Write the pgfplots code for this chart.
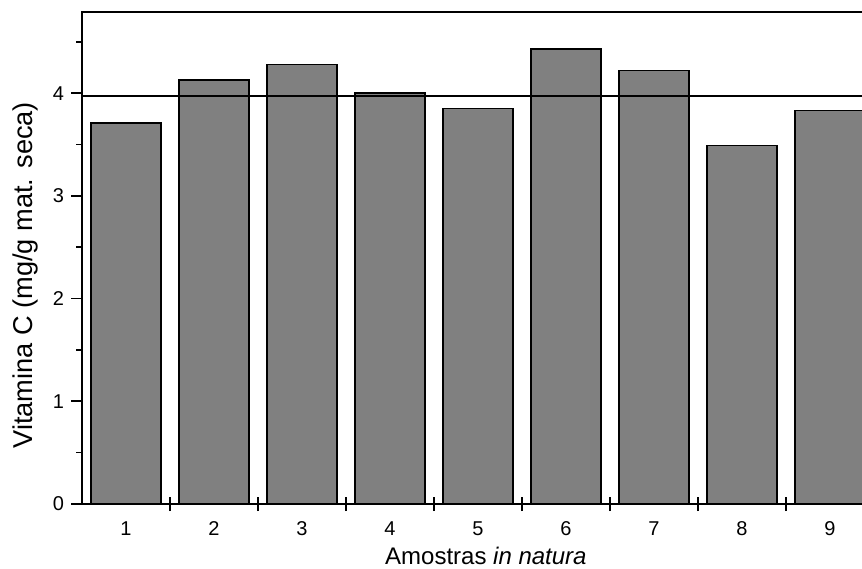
\documentclass[border=0pt]{standalone}
\usepackage{pgfplots}
\pgfplotsset{compat=1.18}
\usepackage{fontspec}
\setmainfont{Liberation Sans}
\begin{document}
\begin{tikzpicture}
\useasboundingbox (-41pt,-32pt) rectangle (390pt,252pt);
\begin{axis}[
  scale only axis,
  width=396pt, height=246pt,
  xmin=0.5, xmax=9.5,
  ymin=0, ymax=4.79,
  axis line style={line width=1pt},
  ybar, bar width=0.795,
  tick align=outside,
  xtick={1,...,9},
  xtick style={draw=none},
  extra x ticks={1.5,2.5,...,8.5},
  extra x tick labels={},
  extra x tick style={tick align=center, xtick style={draw=black, line width=0.8pt}, major tick length=7pt},
  xtick pos=bottom,
  ytick={0,1,2,3,4},
  minor ytick={0.5,1.5,2.5,3.5,4.5},
  ytick pos=left,
  major tick length=5.5pt,
  minor tick length=3pt,
  ytick style={line width=0.8pt, black},
  /pgf/number format/assume math mode=true,
  tick label style={font=\fontsize{10}{12}\selectfont},
  xticklabel style={anchor=base, yshift=-10pt},
  xlabel={Amostras \textit{in natura}},
  ylabel={Vitamina C (mg/g mat. seca)},
  xlabel style={font=\fontsize{12}{14}\selectfont, at={(rel axis cs:0.51,0)}, anchor=base, yshift=-30.3pt},
  ylabel style={font=\fontsize{13.6}{16}\selectfont, at={([xshift=-24.5pt]rel axis cs:0,0.465)}, anchor=base},
]
\addplot[fill=black!50, draw=black, line width=0.75pt] coordinates {
 (1,3.71) (2,4.13) (3,4.28) (4,4.00) (5,3.85) (6,4.43) (7,4.22) (8,3.49) (9,3.83)
};
\addplot[sharp plot, black, line width=1pt, mark=none] coordinates {(0.5,3.97) (9.5,3.97)};
\end{axis}
\end{tikzpicture}
\end{document}
